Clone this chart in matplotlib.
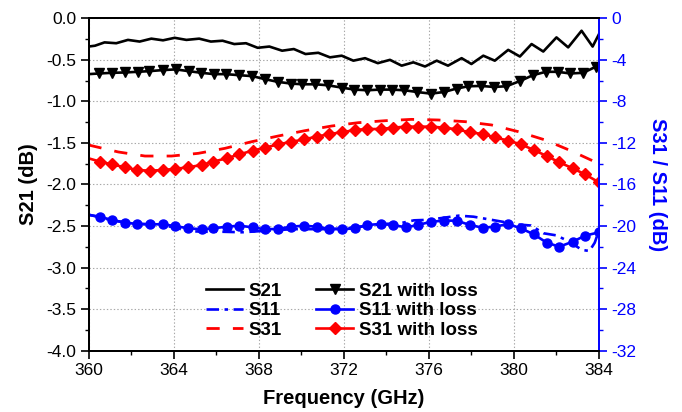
import matplotlib
matplotlib.use("Agg")
import matplotlib.pyplot as plt
from matplotlib.ticker import MultipleLocator, FormatStrFormatter

plt.rcParams['font.family'] = ['Liberation Sans', 'DejaVu Sans']
plt.rcParams['axes.unicode_minus'] = False
plt.rcParams['lines.scale_dashes'] = False

# ---------------- data ----------------
# S21 (no loss), left axis, dB
s21_freq = [360.0, 360.3, 360.75, 361.3, 361.85, 362.4, 362.95, 363.5, 364.05, 364.6,
            365.2, 365.75, 366.3, 366.85, 367.4, 367.95, 368.5, 369.1, 369.65, 370.2,
            370.8, 371.35, 371.9, 372.45, 373.0, 373.6, 374.17, 374.72, 375.27, 375.82,
            376.37, 376.9, 377.54, 378.0, 378.56, 379.1, 379.73, 380.28, 380.83, 381.38,
            382.0, 382.55, 383.18, 383.7, 384.0]
s21 = [-0.34, -0.33, -0.29, -0.30, -0.26, -0.28, -0.245, -0.265, -0.235, -0.26,
       -0.245, -0.28, -0.27, -0.31, -0.30, -0.355, -0.34, -0.39, -0.37, -0.43,
       -0.415, -0.47, -0.45, -0.51, -0.48, -0.54, -0.50, -0.57, -0.53, -0.58,
       -0.51, -0.57, -0.48, -0.55, -0.45, -0.51, -0.38, -0.46, -0.31, -0.40,
       -0.23, -0.35, -0.15, -0.34, -0.19]

# S21 with loss, left axis, dB
s21l_freq = [360.0, 360.5, 361.1, 361.7, 362.3, 362.85, 363.5, 364.1, 364.7, 365.3,
             365.9, 366.45, 367.05, 367.7, 368.3, 368.9, 369.5, 370.05, 370.65, 371.25,
             371.9, 372.5, 373.1, 373.7, 374.25, 374.85, 375.45, 376.1, 376.7, 377.3,
             377.85, 378.45, 379.05, 379.65, 380.3, 380.9, 381.5, 382.05, 382.65, 383.25,
             383.85, 384.0]
s21l = [-0.672, -0.664, -0.656, -0.652, -0.644, -0.636, -0.623, -0.615, -0.636, -0.656,
        -0.672, -0.672, -0.684, -0.696, -0.733, -0.765, -0.785, -0.794, -0.794, -0.806,
        -0.834, -0.858, -0.866, -0.858, -0.858, -0.866, -0.887, -0.907, -0.887, -0.846,
        -0.818, -0.814, -0.826, -0.818, -0.753, -0.684, -0.644, -0.644, -0.664, -0.656,
        -0.583, -0.563]

# S31 (no loss), right axis, dB
s31_freq = [360.0, 361.4, 362.65, 363.9, 365.16, 366.41, 367.67, 368.92, 370.17, 371.43,
            372.68, 373.94, 375.19, 376.44, 377.70, 378.95, 380.20, 381.46, 382.71, 384.0]
s31 = [-12.2, -12.87, -13.26, -13.26, -13.0, -12.52, -11.88, -11.33, -10.82, -10.37,
       -10.05, -9.86, -9.73, -9.79, -9.95, -10.27, -10.91, -11.71, -12.78, -14.0]

# frequency grid of the "with loss" S31 / S11 traces
loss_freq = [360.0, 360.54, 361.08, 361.71, 362.29, 362.89, 363.48, 364.06, 364.69, 365.32,
             365.86, 366.49, 367.09, 367.71, 368.29, 368.92, 369.50, 370.13, 370.72, 371.32,
             371.90, 372.52, 373.10, 373.73, 374.30, 374.92, 375.50, 376.10, 376.72, 377.31,
             377.93, 378.53, 379.11, 379.73, 380.32, 380.94, 381.54, 382.13, 382.76, 383.34,
             384.0]
s31l = [-13.48, -13.80, -14.06, -14.34, -14.61, -14.67, -14.61, -14.50, -14.34, -14.12,
        -13.80, -13.48, -13.10, -12.74, -12.46, -12.13, -11.91, -11.65, -11.40, -11.14,
        -10.98, -10.75, -10.66, -10.66, -10.53, -10.43, -10.43, -10.43, -10.53, -10.69,
        -10.98, -11.14, -11.46, -11.78, -12.13, -12.68, -13.26, -13.86, -14.44, -15.02,
        -15.8]
s11l = [-18.93, -19.10, -19.42, -19.67, -19.80, -19.83, -19.83, -20.0, -20.22, -20.31,
        -20.22, -20.06, -19.97, -20.12, -20.31, -20.28, -20.06, -19.97, -20.06, -20.28,
        -20.31, -20.22, -19.90, -19.80, -19.90, -20.12, -19.90, -19.58, -19.48, -19.48,
        -19.90, -20.16, -20.06, -19.80, -20.22, -20.80, -21.60, -21.99, -21.51, -20.93,
        -20.6]

# S11 (no loss), right axis, dB
s11_freq = [360.0, 361.0, 362.0, 363.0, 364.0, 364.7, 365.6, 366.3, 367.2, 368.0,
            368.8, 369.6, 370.5, 371.3, 372.2, 373.0, 373.8, 374.6, 375.3, 376.0,
            376.7, 377.4, 378.1, 378.8, 379.5, 380.2, 380.8, 381.4, 382.0, 382.6,
            383.2, 383.55, 383.8, 384.0]
s11 = [-18.9, -19.4, -19.75, -19.85, -20.1, -20.5, -20.55, -20.55, -20.6, -20.5,
       -20.4, -20.3, -20.3, -20.3, -20.2, -20.0, -19.8, -19.75, -19.45, -19.4,
       -19.2, -19.0, -19.1, -19.35, -19.6, -19.85, -19.95, -20.7, -20.9, -21.5,
       -22.3, -22.4, -21.6, -20.4]

x_ticks = [360, 364, 368, 372, 376, 380, 384]

# ---------------- figure ----------------
fig = plt.figure(figsize=(6.82, 4.12), dpi=100)
ax = fig.add_subplot(111)
fig.subplots_adjust(left=0.1299, right=0.8783, top=0.9556, bottom=0.1488)
ax2 = ax.twinx()

BLUE = '#0000FF'
RED = '#FF0000'

h1, = ax.plot(s21_freq, s21, color='black', lw=1.9, label='S21')
h4, = ax.plot(s21l_freq, s21l, color='black', lw=1.9, marker='v', ms=7.5,
              markevery=list(range(1, len(s21l_freq) - 1)), label='S21 with loss')

h2, = ax2.plot(s11_freq, s11, color=BLUE, lw=1.9, dashes=[9, 4, 2.5, 4], label='S11')
h5, = ax2.plot(loss_freq, s11l, color=BLUE, lw=1.9, marker='o', ms=6.5,
               markevery=list(range(1, len(loss_freq))), label='S11 with loss')
h3, = ax2.plot(s31_freq, s31, color=RED, lw=2.0, dashes=[9.5, 9.5], label='S31')
h6, = ax2.plot(loss_freq, s31l, color=RED, lw=1.9, marker='D', ms=6.5,
               markevery=list(range(1, len(loss_freq))), label='S31 with loss')

ax.set_xlim(360, 384)
ax.set_ylim(-4.0, 0.0)
ax2.set_ylim(-32, 0)

ax.set_xticks(x_ticks)
ax.xaxis.set_minor_locator(MultipleLocator(2))
ax.yaxis.set_major_locator(MultipleLocator(0.5))
ax.yaxis.set_minor_locator(MultipleLocator(0.25))
ax.yaxis.set_major_formatter(FormatStrFormatter('%.1f'))
ax2.yaxis.set_major_locator(MultipleLocator(4))
ax2.yaxis.set_minor_locator(MultipleLocator(2))

ax.grid(True, which='major', linestyle=(0, (1, 1.5)), color='#a8a8a8', lw=0.8)

ax.tick_params(axis='both', which='major', direction='out', length=5.5, width=1.2,
               labelsize=12.5, colors='black')
ax.tick_params(axis='both', which='minor', direction='out', length=3, width=1.0)
ax.tick_params(axis='y', right=False)
ax2.tick_params(axis='y', which='major', direction='out', length=5.5, width=1.2,
                labelsize=12.5, colors=BLUE)
ax2.tick_params(axis='y', which='minor', direction='out', length=3, width=1.0, colors=BLUE)

for sp in ['left', 'bottom', 'top']:
    ax.spines[sp].set_linewidth(1.4)
    ax2.spines[sp].set_linewidth(1.4)
ax2.spines['right'].set_color(BLUE)
ax2.spines['right'].set_linewidth(1.4)
ax.spines['right'].set_visible(False)

ax.set_xlabel('Frequency (GHz)', fontsize=14.5, fontweight='bold', labelpad=8)
ax.set_ylabel('S21 (dB)', fontsize=14.5, fontweight='bold', labelpad=6)
ax2.set_ylabel('S31 / S11 (dB)', fontsize=14.5, fontweight='bold', color=BLUE,
               rotation=270, labelpad=22)

leg = ax2.legend([h1, h2, h3, h4, h5, h6],
                 ['S21', 'S11', 'S31', 'S21 with loss', 'S11 with loss', 'S31 with loss'],
                 ncol=2, loc='center', bbox_to_anchor=(0.496, 0.12), frameon=False,
                 prop={'weight': 'bold', 'size': 13.5}, handlelength=2.0,
                 handletextpad=0.3, columnspacing=1.8, labelspacing=0.12,
                 borderpad=0.2)

fig.savefig('out.png', dpi=100)
